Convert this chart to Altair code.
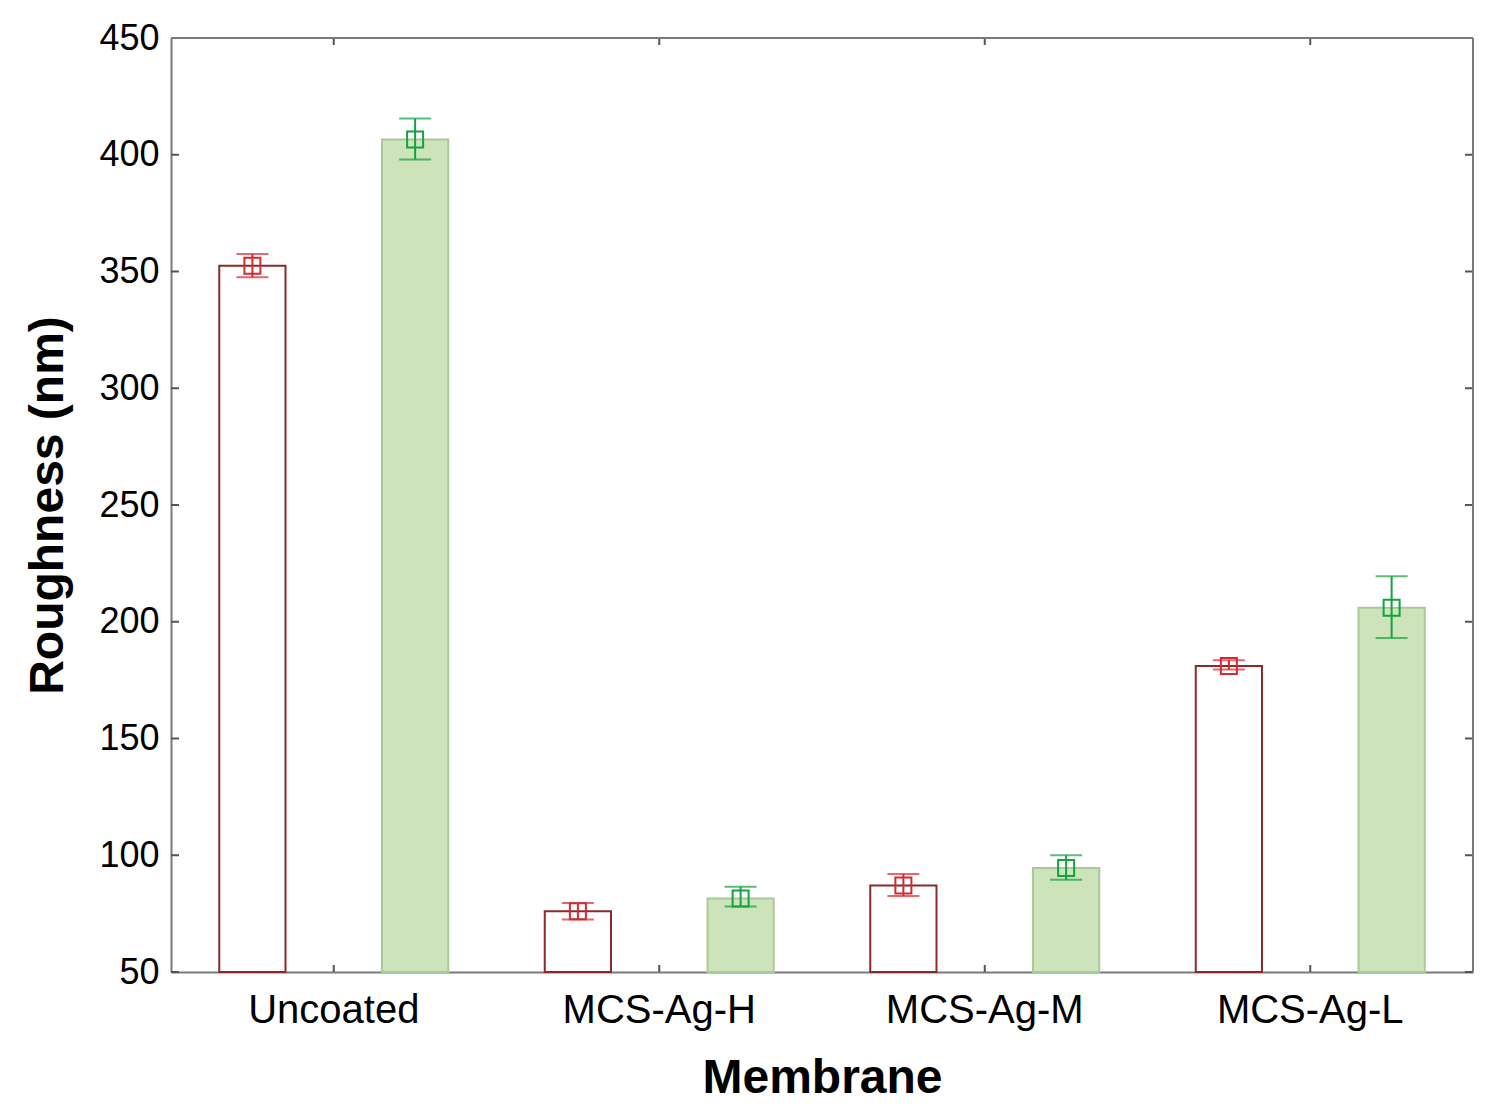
import altair as alt
import pandas as pd

groups = ["Uncoated", "MCS-Ag-H", "MCS-Ag-M", "MCS-Ag-L"]
series = ["A", "B"]

a_mean = [352.5, 76.0, 87.0, 181.0]
a_low = [347.5, 72.5, 82.5, 179.5]
a_high = [357.5, 79.5, 92.0, 183.5]

b_mean = [406.5, 81.5, 94.5, 206.0]
b_low = [398.0, 78.0, 89.5, 193.0]
b_high = [415.5, 86.5, 100.0, 219.5]

y_ticks = [50, 100, 150, 200, 250, 300, 350, 400, 450]
Y_MIN, Y_MAX = 50, 450

rows = []
for i, g in enumerate(groups):
    rows.append(dict(group=g, series=series[0], mean=a_mean[i], low=a_low[i], high=a_high[i], base=Y_MIN))
    rows.append(dict(group=g, series=series[1], mean=b_mean[i], low=b_low[i], high=b_high[i], base=Y_MIN))
df = pd.DataFrame(rows)
ticks_df = pd.DataFrame({"v": y_ticks})
groups_df = pd.DataFrame({"group": groups})
one_df = pd.DataFrame({"k": [0]})

W, H = 1302, 934
FONT = "Liberation Sans"
FRAME = "#7a7a7a"

xscale = alt.Scale(domain=groups, paddingInner=0, paddingOuter=0)
yscale = alt.Scale(domain=[Y_MIN, Y_MAX], nice=False, zero=False)
xoff = alt.XOffset("series:N", scale=alt.Scale(domain=series, paddingInner=0.593, paddingOuter=0.2965))

xaxis = alt.Axis(title="Membrane", labelAngle=0, labelFontSize=40, labelFont=FONT, labelColor="#000000",
                 labelPadding=18, labelLimit=0, titleFont=FONT, titleFontSize=48, titleFontWeight="bold",
                 titleColor="#000000", titlePadding=24, ticks=False, domain=True,
                 domainColor=FRAME, domainWidth=2)
yaxis = alt.Axis(title="Roughness (nm)", values=y_ticks, labelFontSize=36, labelFont=FONT,
                 labelColor="#000000", labelPadding=12, titleFont=FONT, titleFontSize=48,
                 titleFontWeight="bold", titleColor="#000000", titlePadding=26, ticks=False,
                 domain=True, domainColor=FRAME, domainWidth=2, grid=False)

base = alt.Chart(df)

bars = base.mark_bar(strokeWidth=2).encode(
    x=alt.X("group:N", scale=xscale, axis=xaxis, sort=groups),
    xOffset=xoff,
    y=alt.Y("mean:Q", scale=yscale, axis=yaxis),
    y2="base:Q",
    fill=alt.Fill("series:N", scale=alt.Scale(domain=series, range=["#ffffff", "#cde4bb"]), legend=None),
    stroke=alt.Stroke("series:N", scale=alt.Scale(domain=series, range=["#8b2a2a", "#a9c99a"]), legend=None),
)

ecolor = alt.Color("series:N", scale=alt.Scale(domain=series, range=["#d42a32", "#12a33f"]), legend=None)

err = base.mark_rule(strokeWidth=2).encode(
    x=alt.X("group:N", scale=xscale, sort=groups),
    xOffset=xoff,
    y=alt.Y("low:Q", scale=yscale),
    y2="high:Q",
    color=ecolor,
)
cap_lo = base.mark_tick(size=32, thickness=2, orient="horizontal").encode(
    x=alt.X("group:N", scale=xscale, sort=groups),
    xOffset=xoff,
    y=alt.Y("low:Q", scale=yscale),
    color=ecolor,
)
cap_hi = base.mark_tick(size=32, thickness=2, orient="horizontal").encode(
    x=alt.X("group:N", scale=xscale, sort=groups),
    xOffset=xoff,
    y=alt.Y("high:Q", scale=yscale),
    color=ecolor,
)
pts = base.mark_point(shape="square", size=256, filled=False, strokeWidth=2, opacity=1).encode(
    x=alt.X("group:N", scale=xscale, sort=groups),
    xOffset=xoff,
    y=alt.Y("mean:Q", scale=yscale),
    color=ecolor,
)

tick_col = "#555555"
ytick_l = alt.Chart(ticks_df).mark_rule(color=tick_col, strokeWidth=2).encode(
    y=alt.Y("v:Q", scale=yscale), x=alt.value(0), x2=alt.value(8))
ytick_r = alt.Chart(ticks_df).mark_rule(color=tick_col, strokeWidth=2).encode(
    y=alt.Y("v:Q", scale=yscale), x=alt.value(W - 8), x2=alt.value(W))
xtick_b = alt.Chart(groups_df).mark_rule(color=tick_col, strokeWidth=2).encode(
    x=alt.X("group:N", scale=xscale, sort=groups), y=alt.value(H - 7), y2=alt.value(H))
xtick_t = alt.Chart(groups_df).mark_rule(color=tick_col, strokeWidth=2).encode(
    x=alt.X("group:N", scale=xscale, sort=groups), y=alt.value(0), y2=alt.value(7))
frame_top = alt.Chart(one_df).mark_rule(color=FRAME, strokeWidth=2).encode(
    x=alt.value(0), x2=alt.value(W), y=alt.value(0))
frame_right = alt.Chart(one_df).mark_rule(color=FRAME, strokeWidth=2).encode(
    x=alt.value(W), y=alt.value(0), y2=alt.value(H))

chart = alt.layer(bars, err, cap_lo, cap_hi, pts, ytick_l, ytick_r, xtick_b, xtick_t,
                  frame_top, frame_right).properties(
    width=W, height=H,
    padding={"left": 16, "top": 12, "right": 20, "bottom": 5},
).configure_view(stroke=None).configure(background="#ffffff")

chart.save("out.html", embed_options={"renderer": "svg", "actions": False})
